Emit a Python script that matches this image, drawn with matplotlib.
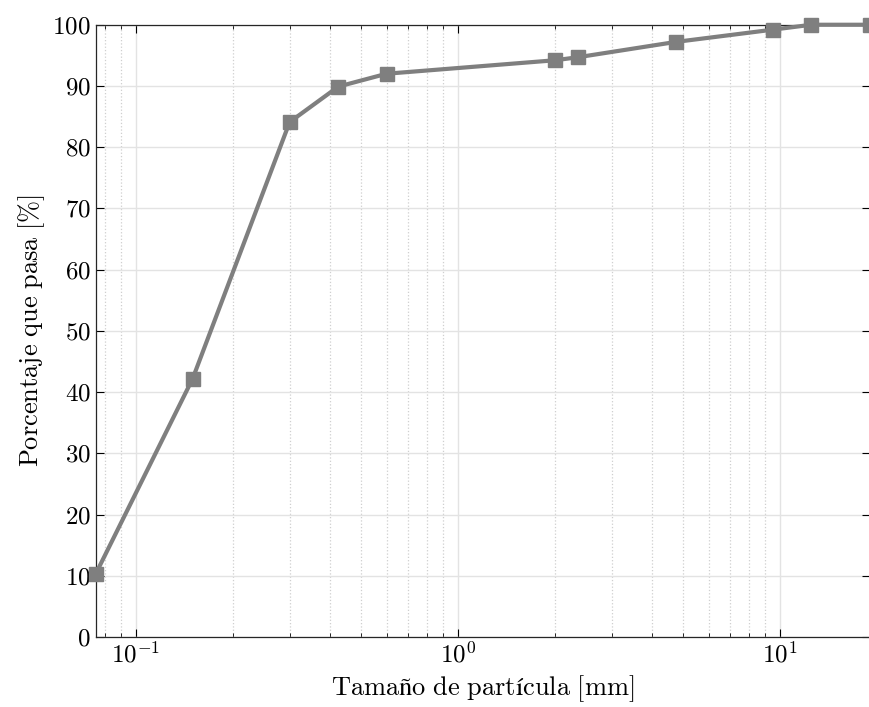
import matplotlib
matplotlib.use('Agg')
import matplotlib.pyplot as plt
from matplotlib.ticker import LogLocator, MultipleLocator, NullFormatter

plt.rcParams['font.family'] = 'serif'
plt.rcParams['font.serif'] = ['cmr10']
plt.rcParams['mathtext.fontset'] = 'cm'
plt.rcParams['axes.formatter.use_mathtext'] = True

# datos de granulometría
tamano = [0.075, 0.15, 0.3, 0.425, 0.6, 2.0, 2.36, 4.75, 9.5, 12.5, 19.0]
pasa = [10.3, 42.2, 84.1, 89.9, 92.0, 94.2, 94.7, 97.2, 99.2, 100.0, 100.0]

fig = plt.figure(figsize=(8.7, 7.07), dpi=100)
ax = fig.add_axes([0.110, 0.099, 0.890, 0.866])

ax.plot(tamano, pasa, color='#7f7f7f', lw=3.0, marker='s', markersize=10,
        clip_on=False, zorder=5)

ax.set_xscale('log')
ax.set_xlim(0.075, 19)
ax.set_ylim(0, 100)
ax.yaxis.set_major_locator(MultipleLocator(10))
ax.xaxis.set_minor_locator(LogLocator(base=10, subs=range(2, 10)))
ax.xaxis.set_minor_formatter(NullFormatter())

# rejilla estilo MATLAB
ax.grid(True, which='major', color='#e3e3e3', linestyle='-', linewidth=1)
ax.grid(True, which='minor', axis='x', color='#cfcfcf', linestyle=':', linewidth=0.9)
ax.set_axisbelow(True)

ax.tick_params(which='both', direction='in', top=True, right=True, labelsize=18)
ax.tick_params(which='major', length=6)
ax.tick_params(which='minor', length=3)
for s in ax.spines.values():
    s.set_linewidth(0.9)
    s.set_color('#262626')

ax.set_xlabel(r'$\mathrm{Tamaño\ de\ partícula\ [mm]}$', fontsize=19)
ax.set_ylabel(r'$\mathrm{Porcentaje\ que\ pasa\ [\%]}$', fontsize=19)

plt.savefig('out.png', dpi=100)
